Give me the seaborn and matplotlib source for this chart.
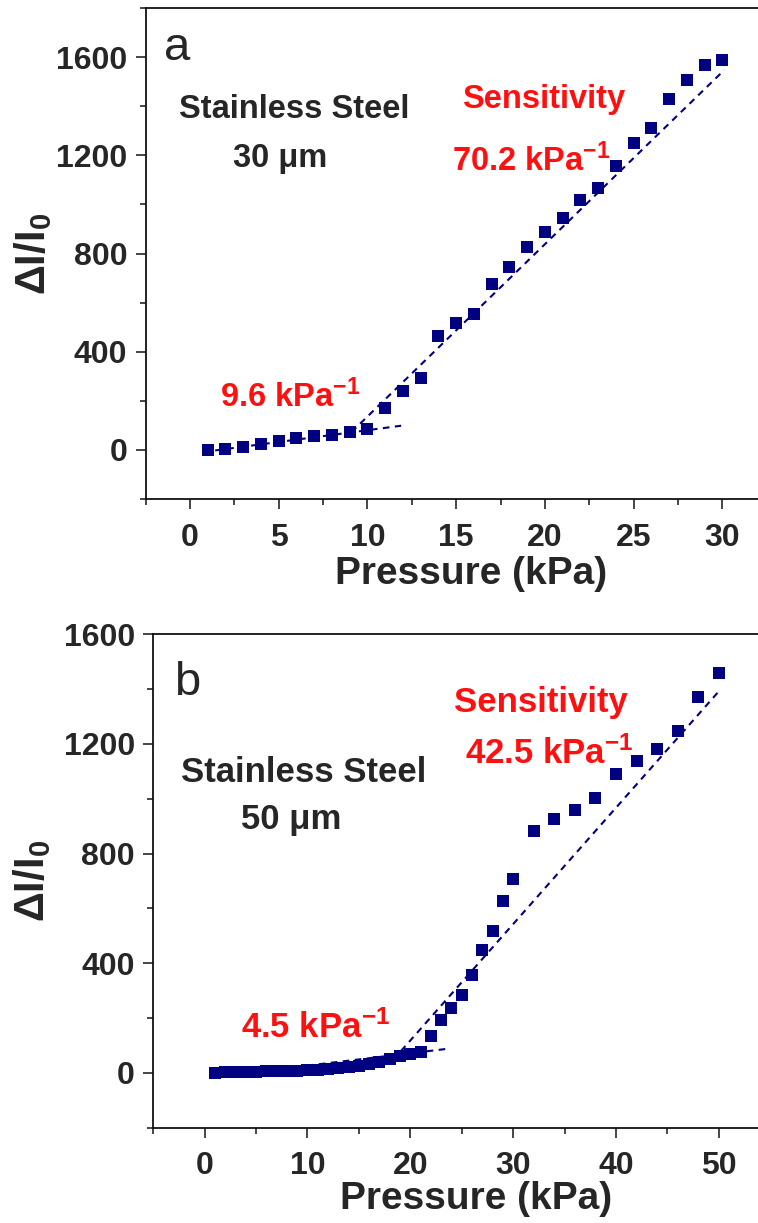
import numpy as np
import pandas as pd
import matplotlib
matplotlib.use("Agg")
import matplotlib.pyplot as plt
from matplotlib.ticker import MultipleLocator
import seaborn as sns

# Sample (a): 30 um stainless steel mesh
pressure_a = list(range(1, 31))
response_a = [0, 4, 12, 26, 35, 47, 58, 63, 75, 85,
              171, 241, 295, 466, 517, 555, 675, 745, 826, 887,
              945, 1018, 1066, 1158, 1249, 1310, 1429, 1508, 1568, 1588]

# Sample (b): 50 um stainless steel mesh
pressure_b = list(range(1, 31)) + list(range(32, 51, 2))
response_b = [0, 1, 2, 3, 4, 5, 6, 7, 8, 9,
              11, 14, 17, 21, 26, 32, 40, 50, 60, 68,
              75, 133, 194, 238, 282, 357, 449, 517, 626, 706,
              881, 927, 958, 1001, 1092, 1138, 1182, 1248, 1370, 1460]

# Linear-fit sensitivities (kPa^-1): low- and high-pressure regimes
sens_a = [9.6, 70.2]
sens_b = [4.5, 42.5]
# pivot point (pressure, response) of each fitted segment and its pressure span
pivot_a = [(6.3, 45), (19.6, 810)]
span_a = [(0.75, 11.9), (9.1, 30.1)]
pivot_b = [(12.0, 35), (34.6, 738)]
span_b = [(0.6, 23.4), (19.1, 50.1)]

NAVY = "#000080"
RED = "#ff1010"

sns.set_style("ticks")
plt.rcParams["font.family"] = ["Liberation Sans", "DejaVu Sans"]
plt.rcParams["mathtext.fontset"] = "custom"
plt.rcParams["mathtext.rm"] = "Liberation Sans:bold"
plt.rcParams["mathtext.bf"] = "Liberation Sans:bold"
plt.rcParams["mathtext.it"] = "Liberation Sans:bold"
plt.rcParams["mathtext.default"] = "rm"

fig = plt.figure(figsize=(7.58, 12.23), dpi=100)
W, H = 758.0, 1223.0
ax_a = fig.add_axes([145.5 / W, 1 - 499.1 / H, 1 - 145.5 / W, (499.1 - 7.9) / H])
ax_b = fig.add_axes([153.1 / W, 1 - 1127.5 / H, 1 - 153.1 / W, (1127.5 - 634.4) / H])


def fit_frame(sens, pivots, spans):
    rows = []
    for k, (s, (px, py), (x0, x1)) in enumerate(zip(sens, pivots, spans)):
        xs = np.array([x0, x1])
        ys = py + s * (xs - px)
        for x, y in zip(xs, ys):
            rows.append({"P": x, "R": y, "seg": k})
    return pd.DataFrame(rows)


def draw_panel(ax, p, r, sens, pivots, spans, msize):
    df = pd.DataFrame({"P": p, "R": r})
    fits = fit_frame(sens, pivots, spans)
    for k in fits["seg"].unique():
        sns.lineplot(data=fits[fits["seg"] == k], x="P", y="R", ax=ax,
                     color=NAVY, lw=1.5, linestyle=(0, (3.2, 2.6)),
                     zorder=2, legend=False)
    sns.scatterplot(data=df, x="P", y="R", ax=ax, marker="s", s=msize,
                    color=NAVY, edgecolor=NAVY, linewidth=0, zorder=3,
                    legend=False)


draw_panel(ax_a, pressure_a, response_a, sens_a, pivot_a, span_a, 70)
draw_panel(ax_b, pressure_b, response_b, sens_b, pivot_b, span_b, 76)

ax_a.set_xlim(-2.5, 32.0)
ax_a.set_ylim(-200, 1800)
ax_a.xaxis.set_major_locator(MultipleLocator(5))
ax_a.xaxis.set_minor_locator(MultipleLocator(2.5))

ax_b.set_xlim(-5, 53.8)
ax_b.set_ylim(-200, 1600)
ax_b.xaxis.set_major_locator(MultipleLocator(10))
ax_b.xaxis.set_minor_locator(MultipleLocator(5))

for ax in (ax_a, ax_b):
    ax.yaxis.set_major_locator(MultipleLocator(400))
    ax.yaxis.set_minor_locator(MultipleLocator(200))
    ax.spines["right"].set_visible(False)
    for side in ("left", "bottom", "top"):
        ax.spines[side].set_linewidth(1.3)
        ax.spines[side].set_color("#111111")
    ax.tick_params(which="major", direction="out", length=7, width=1.2,
                   labelsize=23, pad=6, top=False, right=False)
    ax.tick_params(axis="x", which="major", pad=10)
    ax.tick_params(which="minor", direction="out", length=4, width=1.2,
                   top=False, right=False)
    for lab in ax.get_xticklabels() + ax.get_yticklabels():
        lab.set_fontweight("bold")
    ax.set_xlabel("Pressure (kPa)", fontsize=28, fontweight="bold")
    ax.set_ylabel("ΔI/I$_0$", fontsize=30, fontweight="bold")

ax_a.xaxis.set_label_coords(0.531, -0.115)
ax_b.xaxis.set_label_coords(0.534, -0.108)
ax_a.yaxis.set_label_coords(-0.150, 0.5)
ax_b.yaxis.set_label_coords(-0.165, 0.5)

# Panel (a) annotations
ax_a.text(-1.48, 1588, "a", fontsize=34, ha="left", va="baseline")
ax_a.text(5.9, 1350, "Stainless Steel", fontsize=23.5, fontweight="bold",
          ha="center", va="baseline")
ax_a.text(5.1, 1153, "30 μm", fontsize=23.5, fontweight="bold",
          ha="center", va="baseline")
ax_a.text(19.9, 1391, "Sensitivity", fontsize=23.5, fontweight="bold",
          color=RED, ha="center", va="baseline")
ax_a.text(14.74, 1137, f"{sens_a[1]} kPa$^{{-1}}$", fontsize=23.5,
          fontweight="bold", color=RED, ha="left", va="baseline")
ax_a.text(1.69, 176, f"{sens_a[0]} kPa$^{{-1}}$", fontsize=23.5,
          fontweight="bold", color=RED, ha="left", va="baseline")

# Panel (b) annotations
ax_b.text(-3.0, 1378, "b", fontsize=34, ha="left", va="baseline")
ax_b.text(-2.24, 1061, "Stainless Steel", fontsize=25, fontweight="bold",
          ha="left", va="baseline")
ax_b.text(8.4, 891, "50 μm", fontsize=25, fontweight="bold",
          ha="center", va="baseline")
ax_b.text(32.7, 1317, "Sensitivity", fontsize=25, fontweight="bold",
          color=RED, ha="center", va="baseline")
ax_b.text(25.3, 1129, f"{sens_b[1]} kPa$^{{-1}}$", fontsize=25,
          fontweight="bold", color=RED, ha="left", va="baseline")
ax_b.text(3.53, 129, f"{sens_b[0]} kPa$^{{-1}}$", fontsize=25,
          fontweight="bold", color=RED, ha="left", va="baseline")

fig.savefig("out.png", dpi=100)
